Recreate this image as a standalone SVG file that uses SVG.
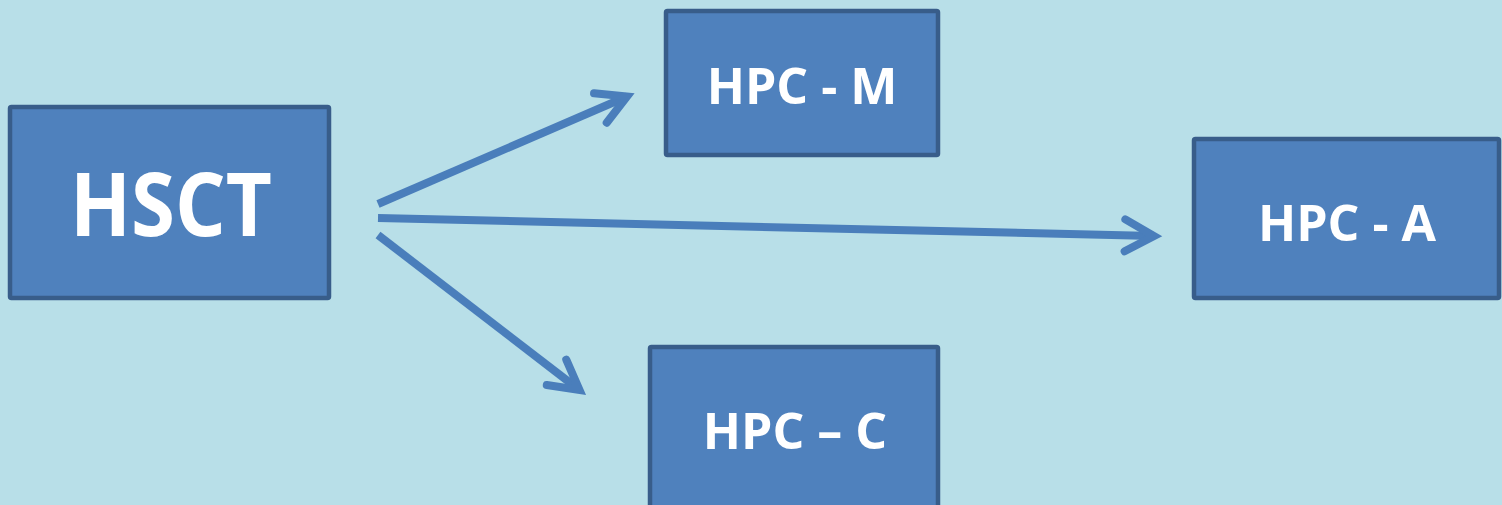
<svg xmlns="http://www.w3.org/2000/svg" width="1502" height="505" viewBox="0 0 1502 505">
  <style>
    .box { fill: #4F81BD; stroke: #385D8A; stroke-width: 4.5; }
    .label { fill: #FFFFFF; font-family: "Open Sans", "Noto Sans", "Liberation Sans", sans-serif; font-weight: 700; text-anchor: middle; }
    .link { fill: none; stroke: #4A7EBB; stroke-width: 8; stroke-linecap: butt; }
    .head { fill: none; stroke: #4A7EBB; stroke-width: 8; stroke-linecap: round; stroke-linejoin: miter; stroke-miterlimit: 10; }
  </style>
  <defs>
    <marker id="chevron" markerUnits="userSpaceOnUse" orient="auto" viewBox="-45 -30 60 60" markerWidth="60" markerHeight="60" refX="0" refY="0" overflow="visible">
      <path class="head" d="M -29 -16 L 0 0 L -29 16"/>
    </marker>
  </defs>

  <rect width="1502" height="505" fill="#B8DFE8"/>

  <g id="connectors">
    <path class="link" d="M 378 204 L 627 96.5" marker-end="url(#chevron)"/>
    <path class="link" d="M 378 218 L 1154 236" marker-end="url(#chevron)"/>
    <path class="link" d="M 378 235 L 579.5 390" marker-end="url(#chevron)"/>
  </g>

  <g id="hsct">
    <rect class="box" x="10" y="107" width="319" height="191" rx="1.5"/>
    <text class="label" x="171" y="236" font-size="87" textLength="202" lengthAdjust="spacingAndGlyphs">HSCT</text>
  </g>

  <g id="hpc-m">
    <rect class="box" x="666" y="11" width="272" height="144" rx="1.5"/>
    <text class="label" x="802" y="104" font-size="50">HPC - M</text>
  </g>

  <g id="hpc-a">
    <rect class="box" x="1194" y="139" width="305" height="159" rx="1.5"/>
    <text class="label" x="1347" y="241" font-size="50">HPC - A</text>
  </g>

  <g id="hpc-c">
    <rect class="box" x="650" y="347" width="288" height="170" rx="1.5"/>
    <text class="label" x="795" y="449" font-size="50">HPC – C</text>
  </g>
</svg>
